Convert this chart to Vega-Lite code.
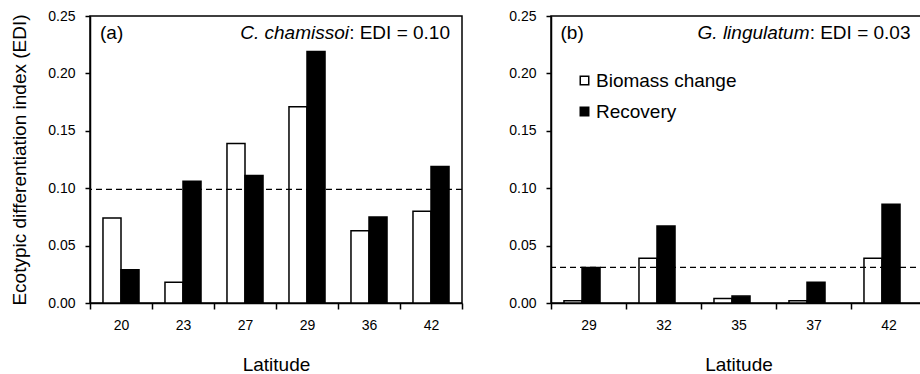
{
  "$schema": "https://vega.github.io/schema/vega-lite/v6.json",
  "padding": {"left": 10, "top": 8, "right": 0, "bottom": 0},
  "datasets": {
    "bars": [
      {"panel": "a", "lat": "20", "type": "Biomass change", "value": 0.074},
      {"panel": "a", "lat": "20", "type": "Recovery", "value": 0.029},
      {"panel": "a", "lat": "23", "type": "Biomass change", "value": 0.018},
      {"panel": "a", "lat": "23", "type": "Recovery", "value": 0.106},
      {"panel": "a", "lat": "27", "type": "Biomass change", "value": 0.139},
      {"panel": "a", "lat": "27", "type": "Recovery", "value": 0.111},
      {"panel": "a", "lat": "29", "type": "Biomass change", "value": 0.171},
      {"panel": "a", "lat": "29", "type": "Recovery", "value": 0.219},
      {"panel": "a", "lat": "36", "type": "Biomass change", "value": 0.063},
      {"panel": "a", "lat": "36", "type": "Recovery", "value": 0.075},
      {"panel": "a", "lat": "42", "type": "Biomass change", "value": 0.080},
      {"panel": "a", "lat": "42", "type": "Recovery", "value": 0.119},
      {"panel": "b", "lat": "29", "type": "Biomass change", "value": 0.002},
      {"panel": "b", "lat": "29", "type": "Recovery", "value": 0.031},
      {"panel": "b", "lat": "32", "type": "Biomass change", "value": 0.039},
      {"panel": "b", "lat": "32", "type": "Recovery", "value": 0.067},
      {"panel": "b", "lat": "35", "type": "Biomass change", "value": 0.004},
      {"panel": "b", "lat": "35", "type": "Recovery", "value": 0.006},
      {"panel": "b", "lat": "37", "type": "Biomass change", "value": 0.002},
      {"panel": "b", "lat": "37", "type": "Recovery", "value": 0.018},
      {"panel": "b", "lat": "42", "type": "Biomass change", "value": 0.039},
      {"panel": "b", "lat": "42", "type": "Recovery", "value": 0.086}
    ],
    "edi": [
      {"panel": "a", "edi": 0.099},
      {"panel": "b", "edi": 0.031}
    ],
    "labels": [
      {"panel": "a", "tag": "(a)", "species": "C. chamissoi", "ediText": ": EDI = 0.10"},
      {"panel": "b", "tag": "(b)", "species": "G. lingulatum", "ediText": ": EDI = 0.03"}
    ]
  },
  "hconcat": [
    {
      "width": 372,
      "height": 287,
      "layer": [
        {
          "data": {"name": "bars"},
          "transform": [{"filter": "datum.panel == 'a'"}],
          "mark": {"type": "bar", "stroke": "black", "strokeWidth": 1.5},
          "encoding": {
            "x": {"field": "lat", "type": "ordinal", "sort": null,
                  "scale": {"paddingInner": 0, "paddingOuter": 0},
                  "axis": {"title": "Latitude", "labelAngle": 0, "tickBand": "extent", "tickSize": 6, "labelPadding": 9, "titlePadding": 23}},
            "xOffset": {"field": "type", "type": "nominal", "sort": ["Biomass change", "Recovery"],
                        "scale": {"paddingInner": 0, "paddingOuter": 0.72}},
            "y": {"field": "value", "type": "quantitative",
                  "scale": {"domain": [0, 0.25], "nice": false},
                  "axis": {"title": "Ecotypic differentiation index (EDI)", "values": [0, 0.05, 0.1, 0.15, 0.2, 0.25], "format": ".2f", "tickSize": 5, "labelPadding": 10, "titlePadding": 18}},
            "fill": {"field": "type", "type": "nominal",
                     "scale": {"domain": ["Biomass change", "Recovery"], "range": ["white", "black"]},
                     "legend": null}
          }
        },
        {
          "data": {"name": "edi"},
          "transform": [{"filter": "datum.panel == 'a'"}],
          "mark": {"type": "rule", "strokeDash": [6, 4], "strokeWidth": 1.2, "color": "black"},
          "encoding": {"y": {"field": "edi", "type": "quantitative"}}
        },
        {
          "data": {"name": "labels"},
          "transform": [{"filter": "datum.panel == 'a'"}],
          "mark": {"type": "text", "align": "left", "baseline": "middle", "dx": -21, "fontSize": 19, "color": "black"},
          "encoding": {"x": {"datum": "20", "type": "ordinal"}, "y": {"datum": 0.235, "type": "quantitative"}, "text": {"field": "tag"}}
        },
        {
          "data": {"name": "labels"},
          "transform": [{"filter": "datum.panel == 'a'"}],
          "mark": {"type": "text", "align": "right", "baseline": "middle", "dx": 19, "fontSize": 19, "color": "black"},
          "encoding": {"x": {"datum": "42", "type": "ordinal"}, "y": {"datum": 0.235, "type": "quantitative"}, "text": {"field": "ediText"}}
        },
        {
          "data": {"name": "labels"},
          "transform": [{"filter": "datum.panel == 'a'"}],
          "mark": {"type": "text", "align": "right", "baseline": "middle", "dx": -82, "fontSize": 19, "fontStyle": "italic", "color": "black"},
          "encoding": {"x": {"datum": "42", "type": "ordinal"}, "y": {"datum": 0.235, "type": "quantitative"}, "text": {"field": "species"}}
        }
      ]
    },
    {
      "width": 375,
      "height": 287,
      "layer": [
        {
          "data": {"name": "bars"},
          "transform": [{"filter": "datum.panel == 'b'"}],
          "mark": {"type": "bar", "stroke": "black", "strokeWidth": 1.5},
          "encoding": {
            "x": {"field": "lat", "type": "ordinal", "sort": null,
                  "scale": {"paddingInner": 0, "paddingOuter": 0},
                  "axis": {"title": "Latitude", "labelAngle": 0, "tickBand": "extent", "tickSize": 6, "labelPadding": 9, "titlePadding": 23}},
            "xOffset": {"field": "type", "type": "nominal", "sort": ["Biomass change", "Recovery"],
                        "scale": {"paddingInner": 0, "paddingOuter": 0.7}},
            "y": {"field": "value", "type": "quantitative",
                  "scale": {"domain": [0, 0.25], "nice": false},
                  "axis": {"title": null, "values": [0, 0.05, 0.1, 0.15, 0.2, 0.25], "format": ".2f", "tickSize": 5, "labelPadding": 10}},
            "fill": {"field": "type", "type": "nominal",
                     "scale": {"domain": ["Biomass change", "Recovery"], "range": ["white", "black"]},
                     "legend": {"title": null, "orient": "none", "legendX": 24, "legendY": 55,
                                "symbolType": "square", "symbolSize": 72, "symbolStrokeColor": "black", "symbolStrokeWidth": 1.5,
                                "labelFontSize": 19, "labelColor": "black", "labelOffset": 2, "rowPadding": 11}}
          }
        },
        {
          "data": {"name": "edi"},
          "transform": [{"filter": "datum.panel == 'b'"}],
          "mark": {"type": "rule", "strokeDash": [6, 4], "strokeWidth": 1.2, "color": "black"},
          "encoding": {"y": {"field": "edi", "type": "quantitative"}}
        },
        {
          "data": {"name": "labels"},
          "transform": [{"filter": "datum.panel == 'b'"}],
          "mark": {"type": "text", "align": "left", "baseline": "middle", "dx": -28, "fontSize": 19, "color": "black"},
          "encoding": {"x": {"datum": "29", "type": "ordinal"}, "y": {"datum": 0.235, "type": "quantitative"}, "text": {"field": "tag"}}
        },
        {
          "data": {"name": "labels"},
          "transform": [{"filter": "datum.panel == 'b'"}],
          "mark": {"type": "text", "align": "right", "baseline": "middle", "dx": 22, "fontSize": 19, "color": "black"},
          "encoding": {"x": {"datum": "42", "type": "ordinal"}, "y": {"datum": 0.235, "type": "quantitative"}, "text": {"field": "ediText"}}
        },
        {
          "data": {"name": "labels"},
          "transform": [{"filter": "datum.panel == 'b'"}],
          "mark": {"type": "text", "align": "right", "baseline": "middle", "dx": -79, "fontSize": 19, "fontStyle": "italic", "color": "black"},
          "encoding": {"x": {"datum": "42", "type": "ordinal"}, "y": {"datum": 0.235, "type": "quantitative"}, "text": {"field": "species"}}
        }
      ]
    }
  ],
  "spacing": 44,
  "resolve": {"scale": {"fill": "independent"}, "legend": {"fill": "independent"}},
  "config": {
    "font": "Liberation Sans",
    "view": {"stroke": "black", "strokeWidth": 1.5},
    "axis": {"grid": false, "domainColor": "black", "domainWidth": 1.5, "tickColor": "black", "tickWidth": 1.5,
             "labelColor": "black", "labelFontSize": 14, "titleColor": "black", "titleFontSize": 19, "titleFontWeight": "normal"},
    "text": {"font": "Liberation Sans"}
  }
}
